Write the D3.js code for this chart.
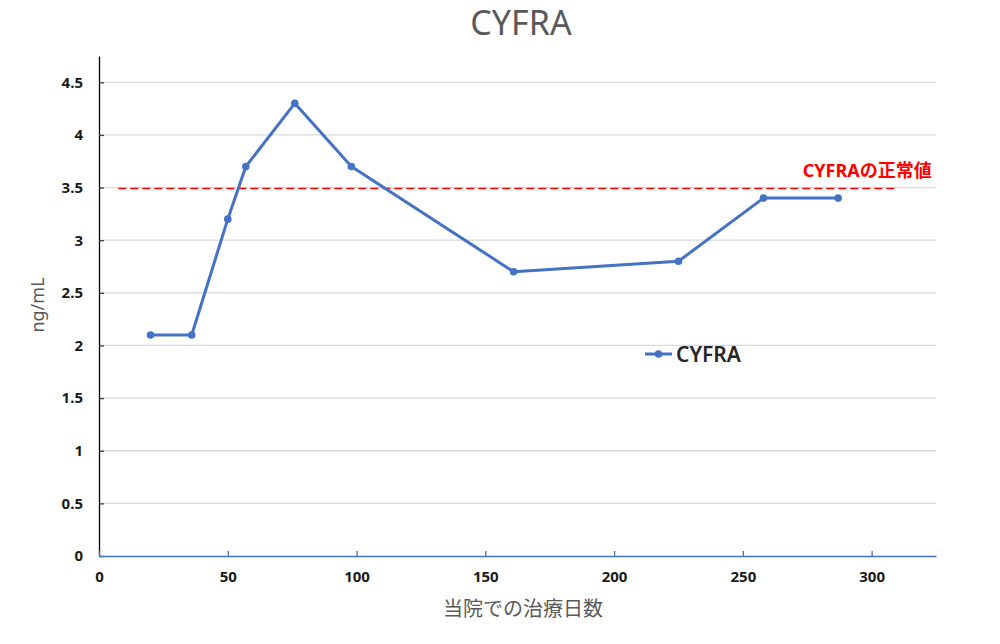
<!DOCTYPE html>
<html>
<head>
<meta charset="utf-8">
<script src="https://cdn.jsdelivr.net/npm/d3@7"></script>
<style>
  body { margin: 0; background: #fff; }
  #chart text { font-family: "Noto Sans", "Noto Sans CJK JP", sans-serif; }
</style>
</head>
<body>
<div id="chart"></div>
<script>
// treatment days at our hospital vs CYFRA value
var days = [20, 36, 50, 57, 76, 98, 161, 225, 258, 287];
var cyfra = [2.1, 2.1, 3.2, 3.7, 4.3, 3.7, 2.7, 2.8, 3.4, 3.4];
var normalValue = 3.5;
var normalRange = [7.5, 309];
var xTicks = [0, 50, 100, 150, 200, 250, 300];
var yTicks = [0, 0.5, 1, 1.5, 2, 2.5, 3, 3.5, 4, 4.5];

var g = {};
g.fullWidth = 1000;
g.fullHeight = 644;
g.margin = {top: 56, right: 64, bottom: 88, left: 99};
g.width = g.fullWidth - g.margin.left - g.margin.right;
g.height = g.fullHeight - g.margin.top - g.margin.bottom;

g.x = d3.scaleLinear().range([0, g.width]).domain([0, 325]);
g.y = d3.scaleLinear().range([g.height, 0]).domain([0, 4.75]);

var svg = d3.select("#chart")
  .append("svg")
    .attr("width", g.fullWidth)
    .attr("height", g.fullHeight);

var plot = svg.append("g")
    .attr("transform", "translate(" + g.margin.left + "," + g.margin.top + ")");

// gridlines
plot.append("g")
  .selectAll("line").data(yTicks.slice(1))
  .enter().append("line")
    .attr("x1", 0)
    .attr("x2", g.width)
    .attr("y1", function(d) { return g.y(d); })
    .attr("y2", function(d) { return g.y(d); })
    .attr("stroke", "#d9d9d9")
    .attr("stroke-width", 1.3);

// Y axis
var yAxis = d3.axisLeft(g.y).tickValues(yTicks).tickSizeInner(-5).tickSizeOuter(0).tickPadding(16)
  .tickFormat(function(d) { return d; });
var ya = plot.append("g").attr("class", "y axis").call(yAxis);
ya.select(".domain").attr("stroke", "#000").attr("stroke-width", 1.3);
ya.selectAll(".tick line").attr("stroke", "#404040").attr("stroke-width", 1.3);
ya.selectAll(".tick text")
  .attr("font-size", 15).attr("font-weight", "bold").attr("fill", "#1a1a1a");

// X axis
var xAxis = d3.axisBottom(g.x).tickValues(xTicks).tickSizeInner(-5).tickSizeOuter(0).tickPadding(15);
var xa = plot.append("g").attr("class", "x axis")
  .attr("transform", "translate(0," + g.height + ")")
  .call(xAxis);
xa.select(".domain").attr("stroke", "#4472c4").attr("stroke-width", 1.5);
xa.selectAll(".tick line").attr("stroke", "#4472c4").attr("stroke-width", 1.3);
xa.selectAll(".tick text")
  .attr("font-size", 15).attr("font-weight", "bold").attr("fill", "#1a1a1a");

// normal value line
plot.append("line")
  .attr("x1", g.x(normalRange[0]))
  .attr("x2", g.x(normalRange[1]))
  .attr("y1", g.y(normalValue) + 1)
  .attr("y2", g.y(normalValue) + 1)
  .attr("stroke", "#ff0000")
  .attr("stroke-width", 1.5)
  .style("stroke-dasharray", "8, 4");

plot.append("text")
  .attr("x", g.x(normalRange[1]) + 37)
  .attr("y", g.y(normalValue) - 11)
  .attr("text-anchor", "end")
  .attr("font-size", 18)
  .attr("font-weight", "bold")
  .attr("fill", "#ff0000")
  .text("CYFRAの正常値");

// data line
var pts = days.map(function(d, i) { return {x: d, y: cyfra[i]}; });
var valueline = d3.line()
  .x(function(d) { return g.x(d.x); })
  .y(function(d) { return g.y(d.y); });

plot.append("path")
  .attr("d", valueline(pts))
  .attr("fill", "none")
  .attr("stroke", "#4472c4")
  .attr("stroke-width", 3)
  .attr("stroke-linejoin", "round");

plot.append("g")
  .selectAll("circle").data(pts)
  .enter().append("circle")
    .attr("cx", function(d) { return g.x(d.x); })
    .attr("cy", function(d) { return g.y(d.y); })
    .attr("r", 3.8)
    .attr("fill", "#4472c4");

// legend
var leg = svg.append("g").attr("transform", "translate(645,354)");
leg.append("line").attr("x1", 0).attr("x2", 27).attr("y1", 0).attr("y2", 0)
  .attr("stroke", "#4472c4").attr("stroke-width", 3);
leg.append("circle").attr("cx", 13.5).attr("cy", 0).attr("r", 3.8).attr("fill", "#4472c4");
leg.append("text").attr("x", 31).attr("y", 8)
  .attr("font-size", 21).attr("font-weight", 600).attr("fill", "#262626")
  .text("CYFRA");

// title
svg.append("text")
  .attr("x", 521).attr("y", 35)
  .attr("text-anchor", "middle")
  .attr("font-size", 34)
  .attr("fill", "#595959")
  .text("CYFRA");

// axis titles
svg.append("text")
  .attr("x", 523).attr("y", 616)
  .attr("text-anchor", "middle")
  .attr("font-size", 20)
  .attr("fill", "#595959")
  .text("当院での治療日数");

svg.append("text")
  .attr("transform", "translate(44,305) rotate(-90)")
  .attr("text-anchor", "middle")
  .attr("font-size", 18)
  .attr("fill", "#595959")
  .text("ng/mL");
</script>
</body>
</html>
